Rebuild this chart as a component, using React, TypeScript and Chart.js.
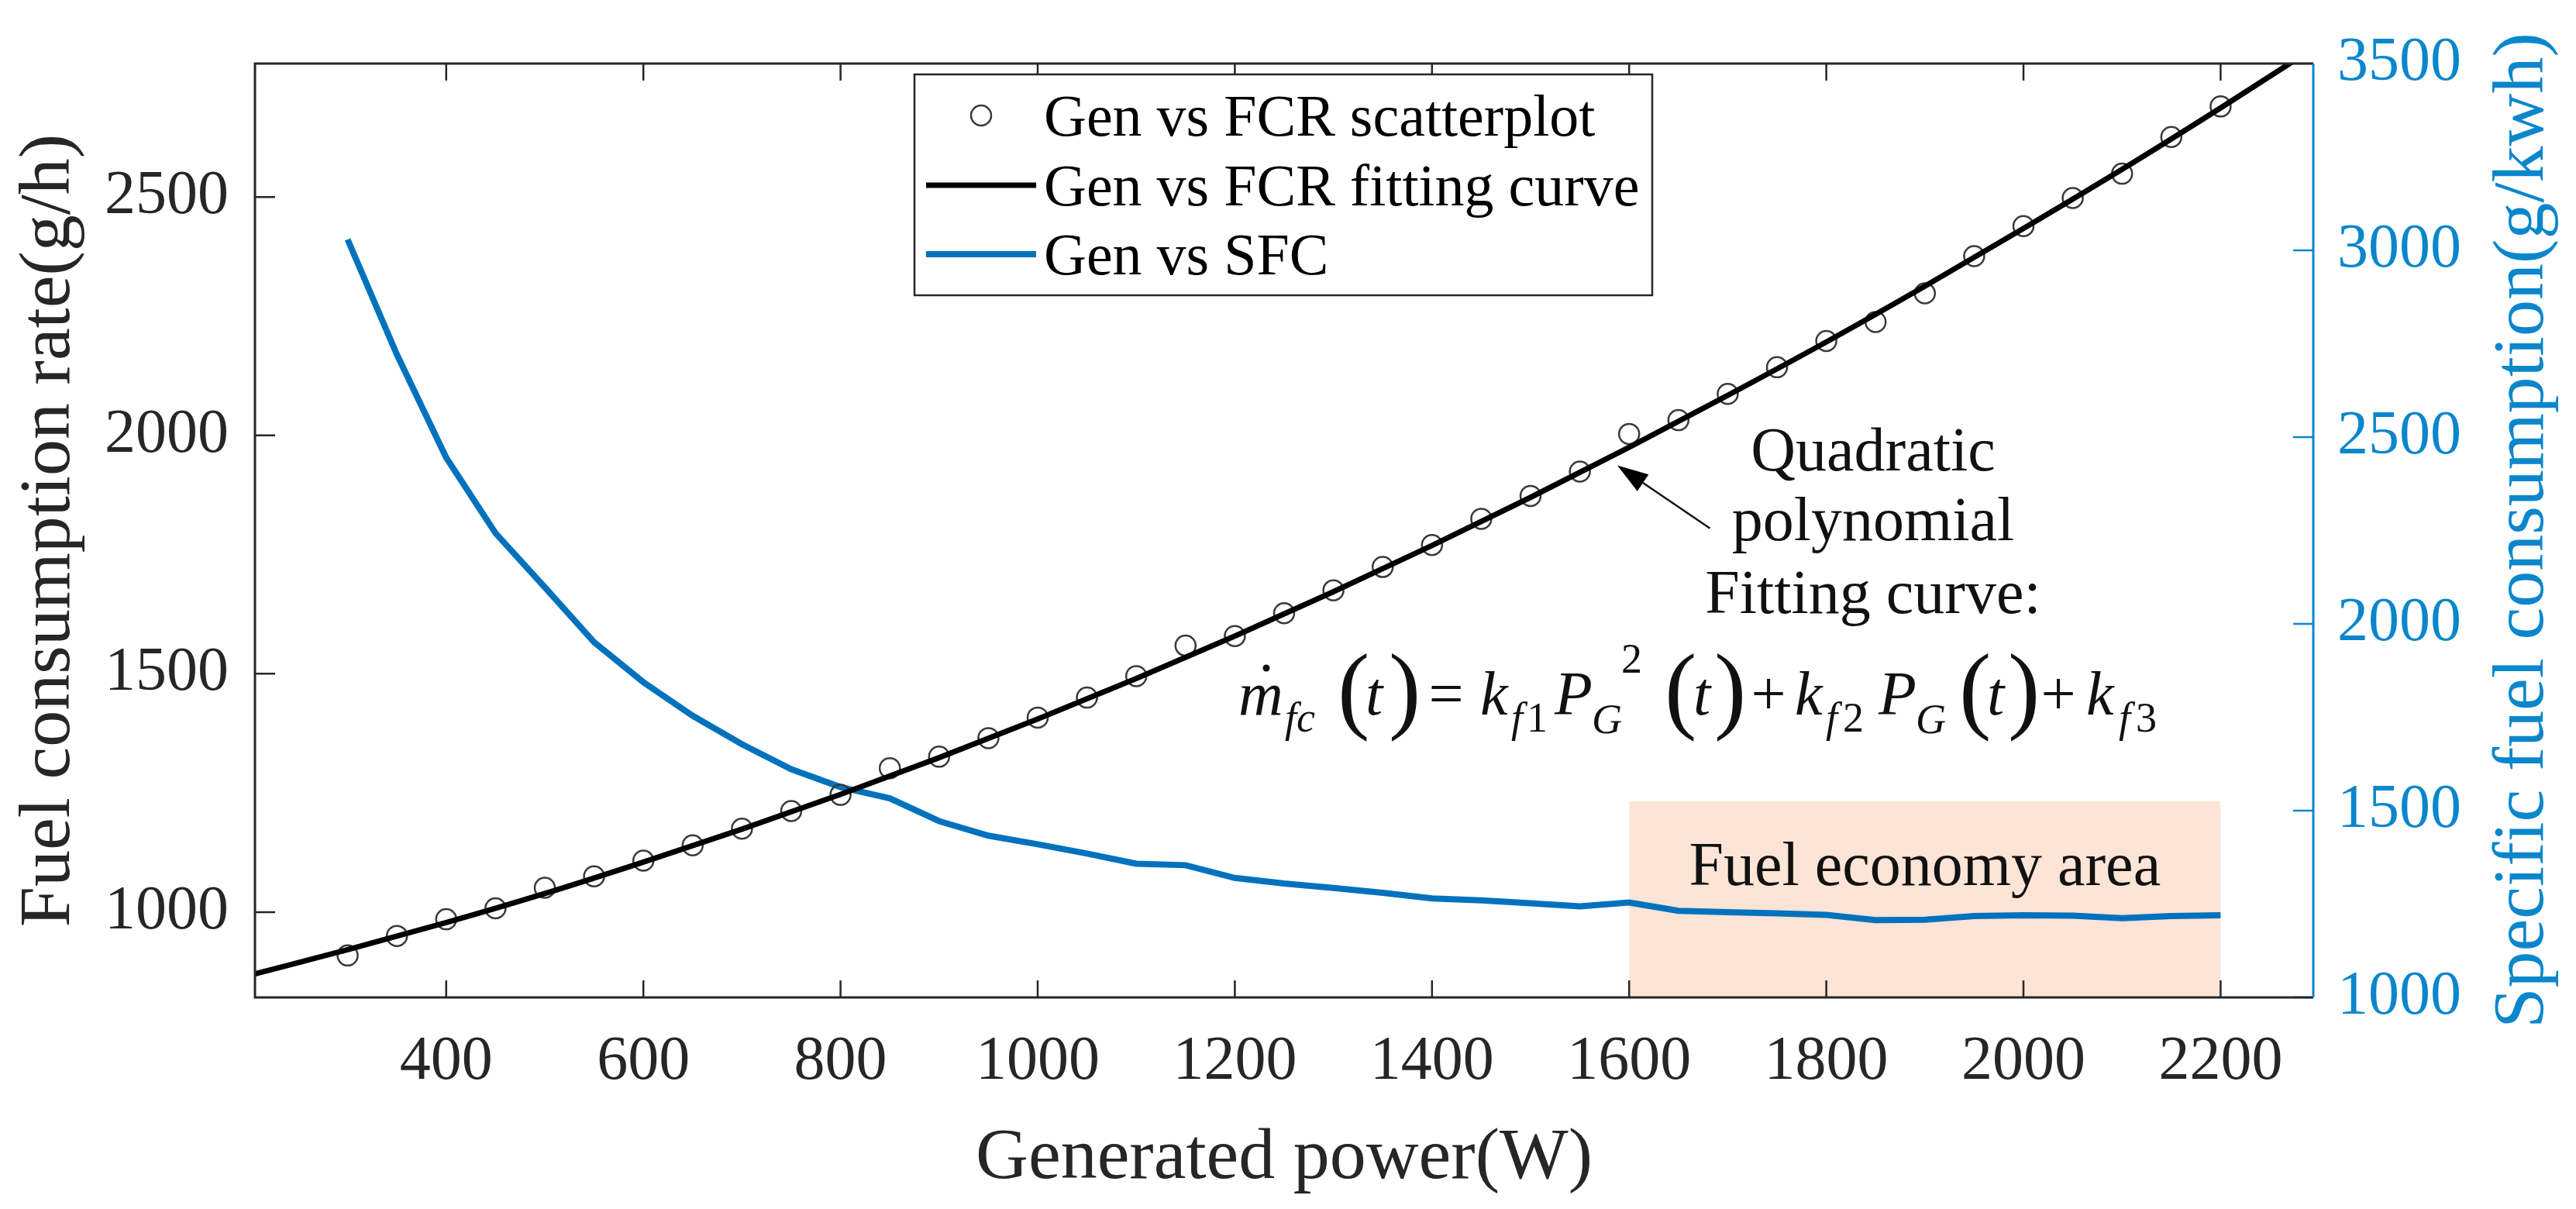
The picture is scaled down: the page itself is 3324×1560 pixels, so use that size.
import { useEffect, useRef } from 'react';
import { Chart, registerables } from 'chart.js';

Chart.register(...registerables);

// measured points (generated power, W)
const powerW = [300, 350, 400, 450, 500, 550, 600, 650, 700, 750, 800, 850, 900, 950, 1000, 1050, 1100, 1150, 1200, 1250, 1300, 1350, 1400, 1450, 1500, 1550, 1600, 1650, 1700, 1750, 1800, 1850, 1900, 1950, 2000, 2050, 2100, 2150, 2200];
// fuel consumption rate, g/h
const fcrScatter = [909, 950, 985, 1008, 1051, 1075, 1108, 1140, 1175, 1212, 1246, 1302, 1326, 1365, 1408, 1450, 1495, 1559, 1579, 1627, 1675, 1724, 1770, 1825, 1873, 1924, 2003, 2032, 2087, 2143, 2198, 2238, 2298, 2376, 2439, 2498, 2549, 2626, 2690];
// quadratic fitting curve, read every 100 W
const fitPowerW = [200, 300, 400, 500, 600, 700, 800, 900, 1000, 1100, 1200, 1300, 1400, 1500, 1600, 1700, 1800, 1900, 2000, 2100, 2200, 2300];
const fitFcr = [867, 921, 978, 1039, 1105, 1174, 1247, 1324, 1405, 1490, 1579, 1672, 1769, 1870, 1975, 2084, 2196, 2313, 2434, 2558, 2687, 2820];
// specific fuel consumption, g/kWh (same power points)
const sfc = [3029, 2721, 2445, 2243, 2098, 1951, 1844, 1754, 1678, 1611, 1563, 1533, 1472, 1433, 1410, 1385, 1358, 1354, 1320, 1305, 1293, 1280, 1265, 1260, 1252, 1244, 1254, 1232, 1228, 1225, 1221, 1207, 1208, 1218, 1220, 1219, 1212, 1218, 1220];

// fuel economy area: power span and top (right axis)
const economyPowerW = [1600, 2200];
const economyTopSfc = 1525;

const xTicks = [400, 600, 800, 1000, 1200, 1400, 1600, 1800, 2000, 2200];
const fcrTicks = [1000, 1500, 2000, 2500];
const sfcTicks = [1000, 1500, 2000, 2500, 3000, 3500];
const xRange = [206, 2294];
const fcrRange = [821, 2780];
const sfcRange = [1000, 3500];

const SERIF = '"Liberation Serif", "Times New Roman", serif';
const INK = '#262626';
const AXIS_BLUE = '#0A86CC';
const SFC_BLUE = '#0072BD';
const SHADE = '#FCE4D6';

// arrow of the annotation, in data units (W, g/h)
const arrowTail = { x: 1682, y: 1805 };
const arrowTip = { x: 1588, y: 1937 };

function drawFormula(ctx: CanvasRenderingContext2D, x0: number, base: number) {
    const IT = `italic 80px ${SERIF}`;
    const ITS = `italic 54px ${SERIF}`;
    const UP = `80px ${SERIF}`;
    const UPS = `54px ${SERIF}`;
    const PAR = `124px ${SERIF}`;
    // [text, font, dx from start, dy from baseline, centred]
    const toks: [string, string, number, number, boolean?][] = [
        ['m', IT, 0, 0], ['fc', ITS, 60, 22],
        ['(', PAR, 128, 8], ['t', IT, 164, 0], [')', PAR, 194, 8],
        ['=', UP, 268, 0, true],
        ['k', IT, 312, 0], ['f', ITS, 352, 22], ['1', UPS, 372, 22],
        ['P', IT, 408, 0], ['G', ITS, 456, 24], ['2', UPS, 494, -54],
        ['(', PAR, 550, 8], ['t', IT, 587, 0], [')', PAR, 614, 8],
        ['+', UP, 684, 0, true],
        ['k', IT, 718, 0], ['f', ITS, 758, 22], ['2', UPS, 780, 22],
        ['P', IT, 826, 0], ['G', ITS, 874, 24],
        ['(', PAR, 930, 8], ['t', IT, 966, 0], [')', PAR, 993, 8],
        ['+', UP, 1058, 0, true],
        ['k', IT, 1094, 0], ['f', ITS, 1136, 22], ['3', UPS, 1158, 22],
    ];
    ctx.fillStyle = '#111';
    ctx.textBaseline = 'alphabetic';
    toks.forEach(([t, f, dx, dy, centred]) => {
        ctx.font = f;
        ctx.textAlign = centred ? 'center' : 'left';
        ctx.fillText(t, x0 + dx, base + dy);
    });
    // dot over m
    ctx.beginPath();
    ctx.arc(x0 + 36, base - 60, 4.5, 0, Math.PI * 2);
    ctx.fill();
}

const decorPlugin = {
    id: 'decor',
    afterDraw(chart: Chart) {
        const { ctx, chartArea: a } = chart;
        const xs = chart.scales.x;
        const ys = chart.scales.y;
        const y1 = chart.scales.y1;
        ctx.save();

        // inward ticks
        ctx.lineWidth = 2.5;
        ctx.strokeStyle = INK;
        ctx.beginPath();
        xs.ticks.forEach((t) => {
            const px = xs.getPixelForValue(t.value);
            ctx.moveTo(px, a.bottom);
            ctx.lineTo(px, a.bottom - 22);
            ctx.moveTo(px, a.top);
            ctx.lineTo(px, a.top + 22);
        });
        ys.ticks.forEach((t) => {
            const py = ys.getPixelForValue(t.value);
            ctx.moveTo(a.left, py);
            ctx.lineTo(a.left + 26, py);
        });
        ctx.stroke();
        ctx.strokeStyle = AXIS_BLUE;
        ctx.beginPath();
        y1.ticks.forEach((t) => {
            const py = y1.getPixelForValue(t.value);
            ctx.moveTo(a.right, py);
            ctx.lineTo(a.right - 26, py);
        });
        ctx.stroke();

        // box
        ctx.lineWidth = 3;
        ctx.strokeStyle = INK;
        ctx.beginPath();
        ctx.moveTo(a.right, a.top);
        ctx.lineTo(a.left, a.top);
        ctx.lineTo(a.left, a.bottom);
        ctx.lineTo(a.right, a.bottom);
        ctx.stroke();
        ctx.strokeStyle = AXIS_BLUE;
        ctx.beginPath();
        ctx.moveTo(a.right, a.top);
        ctx.lineTo(a.right, a.bottom);
        ctx.stroke();

        // right axis title, reading upwards
        ctx.save();
        ctx.translate(3281, (a.top + a.bottom) / 2);
        ctx.rotate(-Math.PI / 2);
        ctx.font = `94px ${SERIF}`;
        ctx.fillStyle = AXIS_BLUE;
        ctx.textAlign = 'center';
        ctx.textBaseline = 'alphabetic';
        ctx.fillText('Specific fuel consumption(g/kwh)', 0, 0);
        ctx.restore();

        // legend
        const lx = 1180, ly = 96, lw = 952, lh = 285;
        ctx.fillStyle = '#fff';
        ctx.fillRect(lx, ly, lw, lh);
        ctx.lineWidth = 2.5;
        ctx.strokeStyle = INK;
        ctx.strokeRect(lx, ly, lw, lh);
        const rows = [149, 239, 328];
        ctx.beginPath();
        ctx.lineWidth = 2.5;
        ctx.strokeStyle = '#3a3a3a';
        ctx.arc(1266, rows[0], 13, 0, Math.PI * 2);
        ctx.stroke();
        ctx.lineWidth = 7;
        ctx.strokeStyle = '#000';
        ctx.beginPath();
        ctx.moveTo(1195, rows[1]);
        ctx.lineTo(1337, rows[1]);
        ctx.stroke();
        ctx.lineWidth = 8;
        ctx.strokeStyle = SFC_BLUE;
        ctx.beginPath();
        ctx.moveTo(1195, rows[2]);
        ctx.lineTo(1337, rows[2]);
        ctx.stroke();
        ctx.font = `76px ${SERIF}`;
        ctx.fillStyle = '#000';
        ctx.textAlign = 'left';
        ctx.textBaseline = 'alphabetic';
        ['Gen vs FCR scatterplot', 'Gen vs FCR fitting curve', 'Gen vs SFC'].forEach((s, i) => {
            ctx.fillText(s, 1347, rows[i] + 26);
        });

        // annotation text
        ctx.font = `80px ${SERIF}`;
        ctx.fillStyle = '#111';
        ctx.textAlign = 'center';
        ctx.fillText('Quadratic', 2417, 607);
        ctx.fillText('polynomial', 2417, 697);
        ctx.fillText('Fitting curve:', 2417, 791);
        ctx.fillText('Fuel economy area', xs.getPixelForValue((economyPowerW[0] + economyPowerW[1]) / 2), 1142);

        // arrow
        const tx = xs.getPixelForValue(arrowTail.x), ty = ys.getPixelForValue(arrowTail.y);
        const hx = xs.getPixelForValue(arrowTip.x), hy = ys.getPixelForValue(arrowTip.y);
        const ang = Math.atan2(hy - ty, hx - tx);
        const headLen = 40, headHalf = 13;
        const bx = hx - headLen * Math.cos(ang), by = hy - headLen * Math.sin(ang);
        ctx.lineWidth = 2.5;
        ctx.strokeStyle = '#111';
        ctx.beginPath();
        ctx.moveTo(tx, ty);
        ctx.lineTo(bx, by);
        ctx.stroke();
        ctx.fillStyle = '#000';
        ctx.beginPath();
        ctx.moveTo(hx, hy);
        ctx.lineTo(bx + headHalf * Math.sin(ang), by - headHalf * Math.cos(ang));
        ctx.lineTo(bx - headHalf * Math.sin(ang), by + headHalf * Math.cos(ang));
        ctx.closePath();
        ctx.fill();

        drawFormula(ctx, 1598, 922);
        ctx.restore();
    },
};

function App() {
    const canvasRef = useRef<HTMLCanvasElement>(null);
    const chartRef = useRef<Chart | null>(null);

    useEffect(() => {
        if (!canvasRef.current) return;
        const ctx = canvasRef.current.getContext('2d');
        if (!ctx) return;
        if (chartRef.current) chartRef.current.destroy();

        const tickFont = { family: SERIF, size: 80 };
        const noGrid = { display: false, drawTicks: false, tickLength: 0 };
        const plain = (v: number | string) => String(v);

        chartRef.current = new Chart(ctx, {
            type: 'line',
            data: {
                datasets: [
                    {
                        label: 'Gen vs FCR fitting curve',
                        data: fitPowerW.map((p, i) => ({ x: p, y: fitFcr[i] })),
                        yAxisID: 'y',
                        borderColor: '#000',
                        borderWidth: 7,
                        pointRadius: 0,
                        cubicInterpolationMode: 'monotone',
                        order: 0,
                    },
                    {
                        label: 'Gen vs FCR scatterplot',
                        data: powerW.map((p, i) => ({ x: p, y: fcrScatter[i] })),
                        yAxisID: 'y',
                        showLine: false,
                        pointStyle: 'circle',
                        pointRadius: 13,
                        pointBorderWidth: 2.5,
                        pointBorderColor: '#3a3a3a',
                        pointBackgroundColor: 'rgba(0,0,0,0)',
                        order: 1,
                    },
                    {
                        label: 'Gen vs SFC',
                        data: powerW.map((p, i) => ({ x: p, y: sfc[i] })),
                        yAxisID: 'y1',
                        borderColor: SFC_BLUE,
                        borderWidth: 8,
                        pointRadius: 0,
                        tension: 0,
                        order: 2,
                    },
                    {
                        label: 'Fuel economy area',
                        data: economyPowerW.map((p) => ({ x: p, y: economyTopSfc })),
                        yAxisID: 'y1',
                        borderWidth: 0,
                        borderColor: 'rgba(0,0,0,0)',
                        backgroundColor: SHADE,
                        fill: 'start',
                        pointRadius: 0,
                        order: 3,
                    },
                ],
            },
            options: {
                responsive: true,
                maintainAspectRatio: false,
                animation: false,
                layout: { padding: { top: 58, left: 0, right: 0, bottom: 0 } },
                plugins: {
                    legend: { display: false },
                    tooltip: { enabled: false },
                },
                scales: {
                    x: {
                        type: 'linear',
                        min: xRange[0],
                        max: xRange[1],
                        grid: noGrid,
                        border: { display: false },
                        afterBuildTicks: (s) => { s.ticks = xTicks.map((v) => ({ value: v })); },
                        afterFit: (s) => { s.height = 273; },
                        ticks: { font: tickFont, color: INK, padding: 36, maxRotation: 0, callback: plain },
                        title: {
                            display: true,
                            text: 'Generated power(W)',
                            font: { family: SERIF, size: 94 },
                            color: INK,
                            padding: { top: 0, bottom: 8 },
                        },
                    },
                    y: {
                        type: 'linear',
                        position: 'left',
                        min: fcrRange[0],
                        max: fcrRange[1],
                        grid: noGrid,
                        border: { display: false },
                        afterBuildTicks: (s) => { s.ticks = fcrTicks.map((v) => ({ value: v })); },
                        afterFit: (s) => { s.width = 329; },
                        ticks: { font: tickFont, color: INK, padding: 34, callback: plain },
                        title: {
                            display: true,
                            text: 'Fuel consumption rate(g/h)',
                            font: { family: SERIF, size: 94 },
                            color: INK,
                            padding: { top: 8, bottom: 0 },
                        },
                    },
                    y1: {
                        type: 'linear',
                        position: 'right',
                        min: sfcRange[0],
                        max: sfcRange[1],
                        grid: noGrid,
                        border: { display: false },
                        afterBuildTicks: (s) => { s.ticks = sfcTicks.map((v) => ({ value: v })); },
                        afterFit: (s) => { s.width = 339; },
                        ticks: { font: tickFont, color: AXIS_BLUE, padding: 31, callback: plain },
                    },
                },
            },
            plugins: [decorPlugin],
        });

        return () => {
            if (chartRef.current) {
                chartRef.current.destroy();
                chartRef.current = null;
            }
        };
    }, []);

    return (
        <div style={{ position: 'fixed', left: 0, top: 0, width: 3324, height: 1560, background: '#fff' }}>
            <canvas ref={canvasRef} style={{ width: '100%', height: '100%' }} />
        </div>
    );
}

export default App;
